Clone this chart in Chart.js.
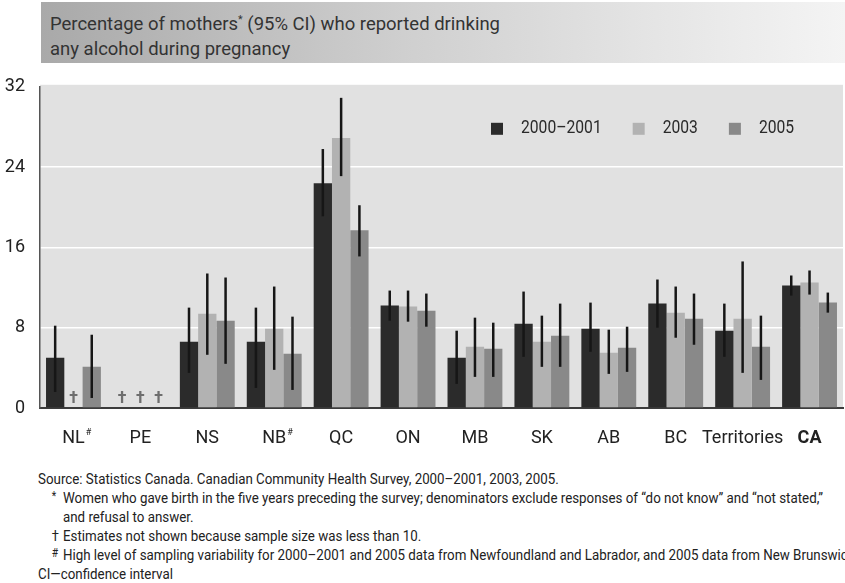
<!DOCTYPE html>
<html>
<head>
<meta charset="utf-8">
<script src="https://cdn.jsdelivr.net/npm/chart.js@4"></script>
<style>
  body { margin: 0; background: #fff; font-family: Roboto, "Liberation Sans", sans-serif; color: #222; }
  #page { position: relative; width: 845px; height: 583px; overflow: hidden; }
  #banner {
    position: absolute; left: 41px; top: 2px; width: 804px; height: 61px;
    background: linear-gradient(to right, #a9a9a9 0%, #cfcfcf 45%, #e4e4e4 75%, #f4f4f4 100%);
  }
  #title { position: absolute; left: 9px; top: 5px; font-size: 19px; line-height: 25px; color: #333;
           white-space: nowrap; transform-origin: left top; }
  #title sup { font-size: 11px; }
  #wrap { position: absolute; left: 0; top: 61px; width: 845px; height: 394px; }
  #notes { position: absolute; left: 38px; top: 470px; font-size: 15.5px; line-height: 19px; color: #222;
           white-space: nowrap; transform-origin: left top; }
  #notes .ind { padding-left: 29px; position: relative; }
  #notes .m { position: absolute; left: 16px; font-size: 12px; top: -2px; }
</style>
</head>
<body>
<div id="page">
  <div id="banner"><div id="title"><span id="t1">Percentage of mothers<sup>*</sup> (95% CI) who reported drinking</span><br>any alcohol during pregnancy</div></div>
  <div id="wrap"><canvas id="chart"></canvas></div>
  <div id="notes">
    <div>Source: Statistics Canada. Canadian Community Health Survey, 2000–2001, 2003, 2005.</div>
    <div class="ind"><span class="m">*</span><span id="n1">Women who gave birth in the five years preceding the survey; denominators exclude responses of “do not know” and “not stated,”</span><br>and refusal to answer.</div>
    <div class="ind"><span class="m" style="font-size:15px;top:0">†</span>Estimates not shown because sample size was less than 10.</div>
    <div class="ind"><span class="m">#</span>High level of sampling variability for 2000–2001 and 2005 data from Newfoundland and Labrador, and 2005 data from New Brunswick.</div>
    <div>CI—confidence interval</div>
  </div>
</div>
<script>
const regions   = ['NL', 'PE', 'NS', 'NB', 'QC', 'ON', 'MB', 'SK', 'AB', 'BC', 'Territories', 'CA'];
const flagged   = ['NL', 'NB'];   // get a "#" marker
const yTicks    = [0, 8, 16, 24, 32];

// null = estimate suppressed (shown as a dagger)
const pct2000   = [5.0, null, 6.6, 6.6, 22.4, 10.2, 5.0, 8.4, 7.9, 10.4, 7.7, 12.2];
const low2000   = [1.6, null, 3.5, 2.0, 19.1, 8.7, 2.4, 5.1, 5.6, 8.0, 5.1, 11.2];
const high2000  = [8.2, null, 10.0, 10.0, 25.8, 11.7, 7.7, 11.6, 10.5, 12.8, 10.4, 13.2];

const pct2003   = [null, null, 9.4, 7.9, 26.9, 10.1, 6.1, 6.6, 5.5, 9.5, 8.9, 12.5];
const low2003   = [null, null, 5.3, 3.8, 23.1, 8.6, 3.1, 4.1, 3.4, 7.0, 3.5, 11.3];
const high2003  = [null, null, 13.4, 12.1, 30.9, 11.7, 9.0, 9.2, 7.8, 12.1, 14.6, 13.7];

const pct2005   = [4.1, null, 8.7, 5.4, 17.7, 9.7, 5.9, 7.2, 6.0, 8.9, 6.1, 10.5];
const low2005   = [1.0, null, 4.4, 1.8, 15.1, 8.1, 3.1, 4.1, 3.6, 6.3, 2.8, 9.5];
const high2005  = [7.3, null, 13.0, 9.1, 20.2, 11.4, 8.5, 10.4, 8.1, 11.4, 9.2, 11.5];

const FONT = 'Roboto, "Liberation Sans", sans-serif';

// condense the html text blocks to the narrow type width
function squeeze(blockId, lineId, width) {
  const block = document.getElementById(blockId);
  const w = document.getElementById(lineId).getBoundingClientRect().width;
  block.style.transform = `scaleX(${width / w})`;
}
squeeze('title', 't1', 450);
squeeze('notes', 'n1', 760);

const plotBg = {
  id: 'plotBg',
  beforeDraw(chart) {
    const { ctx, chartArea: a } = chart;
    ctx.save();
    ctx.fillStyle = '#e1e1e1';
    ctx.fillRect(a.left, a.top - 2, a.right - a.left, a.bottom - a.top + 2);
    ctx.restore();
  }
};

const errorBars = {
  id: 'errorBars',
  afterDatasetsDraw(chart) {
    const { ctx } = chart;
    const y = chart.scales.y;
    ctx.save();
    ctx.strokeStyle = '#161616';
    ctx.lineWidth = 2.5;
    chart.data.datasets.forEach((ds, di) => {
      const meta = chart.getDatasetMeta(di);
      meta.data.forEach((bar, i) => {
        if (ds.data[i] == null) return;
        ctx.beginPath();
        ctx.moveTo(bar.x, y.getPixelForValue(ds.low[i]));
        ctx.lineTo(bar.x, y.getPixelForValue(ds.high[i]));
        ctx.stroke();
      });
    });
    ctx.restore();
  }
};

const daggers = {
  id: 'daggers',
  afterDatasetsDraw(chart) {
    const { ctx } = chart;
    const base = chart.scales.y.getPixelForValue(0);
    ctx.save();
    ctx.fillStyle = '#6e6e6e';
    ctx.font = 'bold 16px ' + FONT;
    ctx.textAlign = 'center';
    ctx.textBaseline = 'alphabetic';
    chart.data.datasets.forEach((ds, di) => {
      chart.getDatasetMeta(di).data.forEach((bar, i) => {
        if (ds.data[i] == null) ctx.fillText('†', bar.x, base - 5);
      });
    });
    ctx.restore();
  }
};

// small superscript "#" after the flagged region labels
const labelMarks = {
  id: 'labelMarks',
  afterDraw(chart) {
    const { ctx } = chart;
    const x = chart.scales.x;
    ctx.save();
    ctx.fillStyle = '#222';
    regions.forEach((r, i) => {
      if (!flagged.includes(r)) return;
      ctx.font = '18px ' + FONT;
      const w = ctx.measureText(r).width;
      ctx.font = '9px ' + FONT;
      ctx.textBaseline = 'alphabetic';
      ctx.fillText('#', x.getPixelForTick(i) + w / 2 + 1, x.top + 27);
    });
    ctx.restore();
  }
};

const innerLegend = {
  id: 'innerLegend',
  afterDraw(chart) {
    const { ctx, chartArea: a } = chart;
    const squeezeX = 0.87;
    let lx = a.left + 451;
    const cy = a.top + 42;
    ctx.save();
    ctx.font = '18px ' + FONT;
    ctx.textBaseline = 'middle';
    chart.data.datasets.forEach(ds => {
      ctx.fillStyle = ds.backgroundColor;
      ctx.fillRect(lx, cy - 6, 12, 12);
      ctx.fillStyle = '#2a2a2a';
      ctx.save();
      ctx.translate(lx + 30, cy);
      ctx.scale(squeezeX, 1);
      ctx.fillText(ds.label, 0, 0);
      ctx.restore();
      lx += 30 + ctx.measureText(ds.label).width * squeezeX + 31;
    });
    ctx.restore();
  }
};

const ctx = document.getElementById('chart').getContext('2d');

new Chart(ctx, {
  type: 'bar',
  data: {
    labels: regions,
    datasets: [
      { label: '2000–2001', data: pct2000, low: low2000, high: high2000, backgroundColor: '#2b2b2b' },
      { label: '2003',      data: pct2003, low: low2003, high: high2003, backgroundColor: '#b2b2b2' },
      { label: '2005',      data: pct2005, low: low2005, high: high2005, backgroundColor: '#898989' }
    ]
  },
  options: {
    responsive: true,
    maintainAspectRatio: false,
    animation: false,
    layout: { padding: { top: 7, right: 2 } },
    categoryPercentage: 0.82,
    barPercentage: 1.0,
    plugins: { legend: { display: false }, tooltip: { enabled: false } },
    scales: {
      x: {
        grid: { display: false, drawTicks: false },
        border: { display: true, color: '#3c3c3c', width: 2 },
        ticks: {
          color: '#222',
          padding: 20,
          maxRotation: 0,
          minRotation: 0,
          autoSkip: false,
          font: c => ({ family: FONT, size: 18, weight: regions[c.index] === 'CA' ? 'bold' : 'normal' })
        },
        afterFit: s => { s.height = 47; }
      },
      y: {
        min: 0,
        max: 32,
        afterBuildTicks: s => { s.ticks = yTicks.map(v => ({ value: v })); },
        grid: {
          drawTicks: false,
          lineWidth: 1.5,
          color: c => (c.tick.value === 0 || c.tick.value === 32) ? 'rgba(0,0,0,0)' : '#ffffff'
        },
        border: { display: true, color: '#555', width: 1.5 },
        ticks: { color: '#222', padding: 15, font: { family: FONT, size: 18 } },
        afterFit: s => { s.width = 40; }
      }
    }
  },
  plugins: [plotBg, errorBars, daggers, labelMarks, innerLegend]
});
</script>
</body>
</html>
